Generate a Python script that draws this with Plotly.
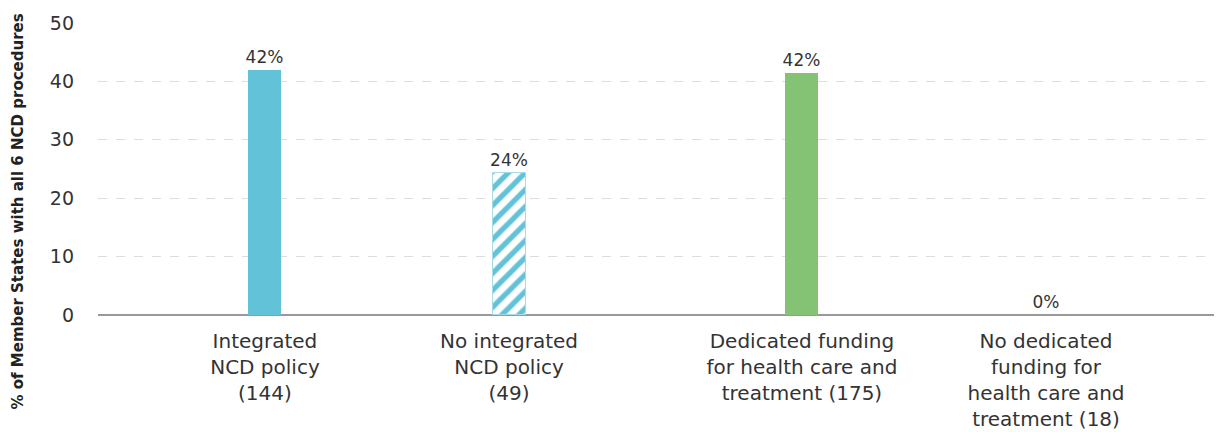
import plotly.graph_objects as go

# ---- data ----
categories = [
    "Integrated<br>NCD policy<br>(144)",
    "No integrated<br>NCD policy<br>(49)",
    "Dedicated funding<br>for health care and<br>treatment (175)",
    "No dedicated<br>funding for<br>health care and<br>treatment (18)",
]
groups = ["policy", "policy", "funding", "funding"]
values = [42.0, 24.3, 41.5, 0.0]
value_labels = ["42%", "24%", "42%", "0%"]
y_title = "% of Member States with all 6 NCD procedures"
y_ticks = [0, 10, 20, 30, 40, 50]

# ---- styles ----
CYAN = "#62C3D8"
GREEN = "#84C274"
hatched = [False, True, False, False]
colors = [CYAN, CYAN, GREEN, CYAN]
FONT = "DejaVu Sans"
TXT = "#333333"

# positions: unit step within a group, extra gap between groups
GROUP_GAP = 0.2
x_pos = []
cur = 0.0
for i, g in enumerate(groups):
    if i > 0:
        cur += 1.0 + (GROUP_GAP if g != groups[i - 1] else 0.0)
    x_pos.append(cur)

solid_idx = [i for i, h in enumerate(hatched) if not h]
hatch_idx = [i for i, h in enumerate(hatched) if h]

fig = go.Figure()
fig.add_trace(
    go.Bar(
        x=[x_pos[i] for i in solid_idx],
        y=[values[i] for i in solid_idx],
        text=[value_labels[i] for i in solid_idx],
        width=0.135,
        textposition="outside",
        constraintext="none",
        cliponaxis=False,
        textfont=dict(family=FONT, size=17, color=TXT),
        marker=dict(color=[colors[i] for i in solid_idx], line=dict(width=0)),
        hoverinfo="skip",
    )
)
fig.add_trace(
    go.Bar(
        x=[x_pos[i] for i in hatch_idx],
        y=[values[i] for i in hatch_idx],
        text=[value_labels[i] for i in hatch_idx],
        width=0.135,
        textposition="outside",
        constraintext="none",
        cliponaxis=False,
        textfont=dict(family=FONT, size=17, color=TXT),
        marker=dict(
            color=CYAN,
            line=dict(color="#A6DCE8", width=1),
            pattern=dict(
                shape="/",
                fillmode="replace",
                fgcolor=CYAN,
                bgcolor="white",
                size=12,
                solidity=0.45,
            ),
        ),
        hoverinfo="skip",
    )
)

W, H = 1214, 424
L, R, T, B = 90, 0, 15, 117
PW, PH = W - L - R, H - T - B

fig.update_layout(
    width=W,
    height=H,
    margin=dict(l=L, r=R, t=T, b=B),
    paper_bgcolor="white",
    plot_bgcolor="white",
    showlegend=False,
    font=dict(family=FONT, color=TXT),
    bargap=0,
    barmode="overlay",
)
fig.update_xaxes(
    range=[-0.684, 3.921],
    tickvals=x_pos,
    ticktext=categories,
    tickfont=dict(family=FONT, size=20, color=TXT),
    showgrid=False,
    zeroline=False,
    showline=False,
    ticks="",
    ticklabelstandoff=12,
)
fig.update_yaxes(
    range=[0, 50],
    tickvals=y_ticks,
    tickfont=dict(family=FONT, size=19, color=TXT),
    showgrid=True,
    gridcolor="#DDDDDD",
    griddash="dash",
    gridwidth=1,
    zeroline=True,
    zerolinecolor="#999999",
    zerolinewidth=2,
    showline=False,
    ticks="",
    ticklabelstandoff=23,
)
fig.add_annotation(
    text="<b>" + y_title + "</b>",
    textangle=-90,
    xref="paper",
    yref="paper",
    x=(9.5 - L) / PW,
    xanchor="center",
    y=1 + (T - 4) / PH,
    yanchor="top",
    showarrow=False,
    font=dict(family="DejaVu Sans", size=15, color="#222222"),
)

fig.write_html("out.html")
